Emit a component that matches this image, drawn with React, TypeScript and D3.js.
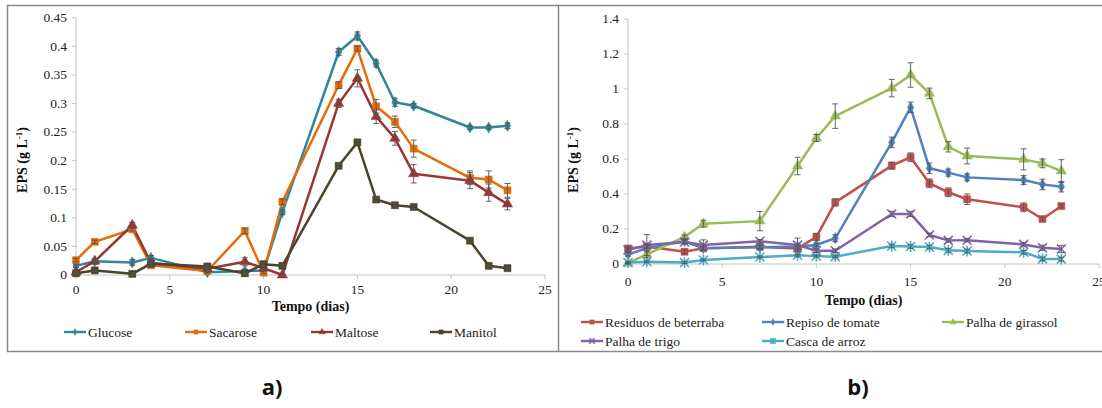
import React from 'react';
import * as d3 from 'd3';

// days of sampling, shared by both panels
const days = [0, 1, 3, 4, 7, 9, 10, 11, 14, 15, 16, 17, 18, 21, 22, 23];
const xTicks = [0, 5, 10, 15, 20, 25];

// panel a) - carbon sources
const glucose = [0.016, 0.024, 0.022, 0.030, 0.005, 0.007, 0.008, 0.110, 0.390, 0.418, 0.370, 0.302, 0.296, 0.258, 0.258, 0.261];
const sacarose = [0.026, 0.058, 0.080, 0.017, 0.007, 0.077, 0.004, 0.128, 0.332, 0.396, 0.295, 0.268, 0.221, 0.170, 0.167, 0.148];
const maltose = [0.005, 0.024, 0.087, 0.021, 0.011, 0.023, 0.012, 0.000, 0.300, 0.344, 0.277, 0.239, 0.177, 0.165, 0.144, 0.124];
const manitol = [0.003, 0.008, 0.002, 0.020, 0.015, 0.003, 0.019, 0.016, 0.191, 0.232, 0.132, 0.122, 0.119, 0.060, 0.016, 0.012];
const glucoseErr = [0.003, 0.003, 0.005, 0.004, 0.002, 0.003, 0.002, 0.004, 0.006, 0.007, 0.006, 0.007, 0.004, 0.003, 0.003, 0.005];
const sacaroseErr = [0.003, 0.003, 0.003, 0.003, 0.002, 0.005, 0.002, 0.005, 0.006, 0.004, 0.012, 0.010, 0.015, 0.012, 0.015, 0.012];
const maltoseErr = [0.002, 0.005, 0.005, 0.008, 0.002, 0.007, 0.003, 0.002, 0.007, 0.015, 0.012, 0.012, 0.016, 0.014, 0.015, 0.010];
const manitolErr = [0.002, 0.002, 0.002, 0.003, 0.002, 0.002, 0.003, 0.002, 0.003, 0.003, 0.004, 0.003, 0.003, 0.002, 0.002, 0.002];
const yTicksA = [0, 0.05, 0.1, 0.15, 0.2, 0.25, 0.3, 0.35, 0.4, 0.45];

// panel b) - agro residues
const residuos = [0.089, 0.100, 0.070, 0.090, 0.098, 0.089, 0.155, 0.352, 0.562, 0.610, 0.461, 0.410, 0.370, 0.324, 0.257, 0.331];
const repiso = [0.055, 0.090, 0.130, 0.090, 0.095, 0.100, 0.109, 0.147, 0.695, 0.895, 0.547, 0.522, 0.495, 0.480, 0.455, 0.442];
const girassol = [0.005, 0.055, 0.155, 0.230, 0.245, 0.560, 0.720, 0.845, 1.005, 1.080, 0.975, 0.670, 0.617, 0.598, 0.575, 0.531];
const trigo = [0.080, 0.108, 0.126, 0.108, 0.130, 0.108, 0.076, 0.076, 0.286, 0.286, 0.166, 0.135, 0.136, 0.112, 0.093, 0.086];
const casca = [0.008, 0.013, 0.008, 0.023, 0.040, 0.050, 0.045, 0.042, 0.103, 0.100, 0.097, 0.078, 0.074, 0.067, 0.029, 0.028];
const residuosErr = [0.01, 0.01, 0.01, 0.01, 0.01, 0.01, 0.02, 0.02, 0.02, 0.025, 0.025, 0.025, 0.03, 0.025, 0.01, 0.01];
const repisoErr = [0.01, 0.02, 0.01, 0.01, 0.01, 0.01, 0.01, 0.02, 0.03, 0.03, 0.03, 0.02, 0.02, 0.025, 0.03, 0.03];
const girassolErr = [0.005, 0.02, 0.01, 0.02, 0.055, 0.05, 0.02, 0.07, 0.05, 0.07, 0.03, 0.03, 0.045, 0.06, 0.025, 0.065];
const trigoErr = [0.01, 0.06, 0.01, 0.03, 0.01, 0.04, 0.01, 0.01, 0.015, 0.015, 0.01, 0.01, 0.01, 0.01, 0.015, 0.02];
const cascaErr = [0.005, 0.005, 0.005, 0.005, 0.005, 0.005, 0.005, 0.005, 0.01, 0.01, 0.01, 0.01, 0.01, 0.01, 0.01, 0.01];
const yTicksB = [0, 0.2, 0.4, 0.6, 0.8, 1, 1.2, 1.4];

const serif = '"Liberation Serif"';
const axisColor = '#c4c4c4';

type Series = { name: string; values: number[]; err: number[]; color: string; marker: string };

function markerPath(type: string, big: boolean) {
  const k = big ? 1 : 0.6;
  const r = 4.5 * k;
  if (type === 'x') return `M${-r},${-r}L${r},${r}M${-r},${r}L${r},${-r}`;
  if (type === 'star') return `M${-r},${-r}L${r},${r}M${-r},${r}L${r},${-r}M0,${-r * 1.2}L0,${r * 1.2}`;
  const t = type === 'diamond' ? d3.symbolDiamond : type === 'triangle' ? d3.symbolTriangle : d3.symbolSquare;
  const size = type === 'diamond' ? 36 : type === 'triangle' ? 46 : 50;
  return d3.symbol().type(t).size(size * k * k)()!;
}

const Marker = ({ type, color, x, y, big }: { type: string; color: string; x: number; y: number; big: boolean }) => {
  const stroked = type === 'x' || type === 'star';
  return (
    <path
      d={markerPath(type, big)}
      transform={`translate(${x},${y})`}
      fill={stroked ? 'none' : color}
      stroke={color}
      strokeWidth={stroked ? 1.6 : 0.5}
    />
  );
};

const Panel = ({ opt }: { opt: any }) => {
  const x = d3.scaleLinear().domain([0, 25]).range(opt.xRange);
  const y = d3.scaleLinear().domain([0, opt.yMax]).range(opt.yRange);
  const line = d3.line<number>().x((d, i) => x(days[i])).y(d => y(d));
  const [x0, x1] = opt.xRange;
  const [y0, y1] = opt.yRange;
  const txt = { fontFamily: serif, fontSize: '13.5px', fill: '#222' };
  const bold = { fontFamily: serif, fontSize: '14px', fontWeight: 700, fill: '#111' };

  return (
    <g>
      {/* axes */}
      <line x1={x0} x2={x1} y1={y0} y2={y0} stroke={axisColor} />
      <line x1={x0} x2={x0} y1={y0} y2={y1} stroke={axisColor} />
      {xTicks.map(t => (
        <g key={'x' + t}>
          <line x1={x(t)} x2={x(t)} y1={y0} y2={y0 + 4} stroke={axisColor} />
          <text x={x(t)} y={y0 + opt.xPad} textAnchor="middle" dy="0.71em" style={txt}>{t}</text>
        </g>
      ))}
      {opt.yTicks.map((t: number) => (
        <g key={'y' + t}>
          <line x1={x0 - 4} x2={x0} y1={y(t)} y2={y(t)} stroke={axisColor} />
          <text x={x0 - 9} y={y(t)} textAnchor="end" dy="0.32em" style={txt}>{String(+t.toFixed(2))}</text>
        </g>
      ))}

      {/* axis titles */}
      <text x={(x0 + x1) / 2} y={opt.xTitleY} textAnchor="middle" style={bold}>Tempo (dias)</text>
      <text transform={`translate(${opt.yTitleX},${opt.yTitleY}) rotate(-90)`} textAnchor="middle" style={bold}>
        EPS (g L<tspan baseline-shift="super" style={{ fontSize: '9px' }}>-1</tspan>)
      </text>

      {/* lines */}
      {opt.series.map((s: Series) => (
        <path key={'l' + s.name} d={line(s.values)!} fill="none" stroke={s.color} strokeWidth={2.5} strokeLinejoin="round" />
      ))}

      {/* markers */}
      {opt.series.map((s: Series) => s.values.map((v, i) => (
        <Marker key={'m' + s.name + i} type={s.marker} color={s.color} x={x(days[i])} y={y(v)} big />
      )))}

      {/* error bars */}
      {opt.series.map((s: Series) => s.values.map((v, i) => {
        const cx = x(days[i]);
        const lo = y(Math.max(0, v - s.err[i]));
        const hi = y(v + s.err[i]);
        return (
          <path key={'e' + s.name + i}
            d={`M${cx},${lo}V${hi}M${cx - 3},${lo}H${cx + 3}M${cx - 3},${hi}H${cx + 3}`}
            stroke="#555" strokeWidth={0.9} fill="none" />
        );
      }))}

      {/* legend */}
      {opt.series.map((s: Series, i: number) => {
        const [lx, ly] = opt.legendPos[i];
        return (
          <g key={'g' + s.name}>
            <line x1={lx} x2={lx + 22} y1={ly} y2={ly} stroke={s.color} strokeWidth={2.4} />
            <Marker type={s.marker} color={s.color} x={lx + 11} y={ly} big={false} />
            <text x={lx + 24} y={ly} dy="0.35em" style={txt}>{s.name}</text>
          </g>
        );
      })}
    </g>
  );
};

const panelA = {
  xRange: [76, 545],
  yRange: [275, 17.7],
  yMax: 0.45,
  yTicks: yTicksA,
  xPad: 9,
  xTitleY: 311,
  yTitleX: 27,
  yTitleY: 160,
  series: [
    { name: 'Glucose', values: glucose, err: glucoseErr, color: '#31859C', marker: 'diamond' },
    { name: 'Sacarose', values: sacarose, err: sacaroseErr, color: '#E46C0A', marker: 'square' },
    { name: 'Maltose', values: maltose, err: maltoseErr, color: '#953735', marker: 'triangle' },
    { name: 'Manitol', values: manitol, err: manitolErr, color: '#4A452A', marker: 'square' },
  ],
  legendPos: [[64, 332], [185, 332], [311, 332], [430, 332]],
};

const panelB = {
  xRange: [628, 1099],
  yRange: [264, 19],
  yMax: 1.4,
  yTicks: yTicksB,
  xPad: 12,
  xTitleY: 305,
  yTitleX: 578,
  yTitleY: 160,
  series: [
    { name: 'Residuos de beterraba', values: residuos, err: residuosErr, color: '#C0504D', marker: 'square' },
    { name: 'Repiso de tomate', values: repiso, err: repisoErr, color: '#4F81BD', marker: 'diamond' },
    { name: 'Palha de girassol', values: girassol, err: girassolErr, color: '#9BBB59', marker: 'triangle' },
    { name: 'Palha de trigo', values: trigo, err: trigoErr, color: '#8064A2', marker: 'x' },
    { name: 'Casca de arroz', values: casca, err: cascaErr, color: '#4BACC6', marker: 'star' },
  ],
  legendPos: [[581, 322], [762, 322], [942, 322], [581, 341], [762, 341]],
};

const App = () => (
  <svg width={1102} height={408} style={{ position: 'absolute', left: 0, top: 0, background: '#fff' }}>
    <rect x={7.5} y={5.5} width={551} height={346} fill="none" stroke="#8a8a8a" strokeWidth={1.5} />
    <path d="M558.5,5.5H1102M558.5,351.5H1102" fill="none" stroke="#8a8a8a" strokeWidth={1.5} />
    <Panel opt={panelA} />
    <Panel opt={panelB} />
    {['a)', 'b)'].map((t, i) => (
      <text key={t} x={i === 0 ? 272 : 858} y={395} textAnchor="middle"
        style={{ fontFamily: '"Open Sans"', fontSize: '22px', fontWeight: 700, fill: '#111' }}>{t}</text>
    ))}
  </svg>
);

export default App;
